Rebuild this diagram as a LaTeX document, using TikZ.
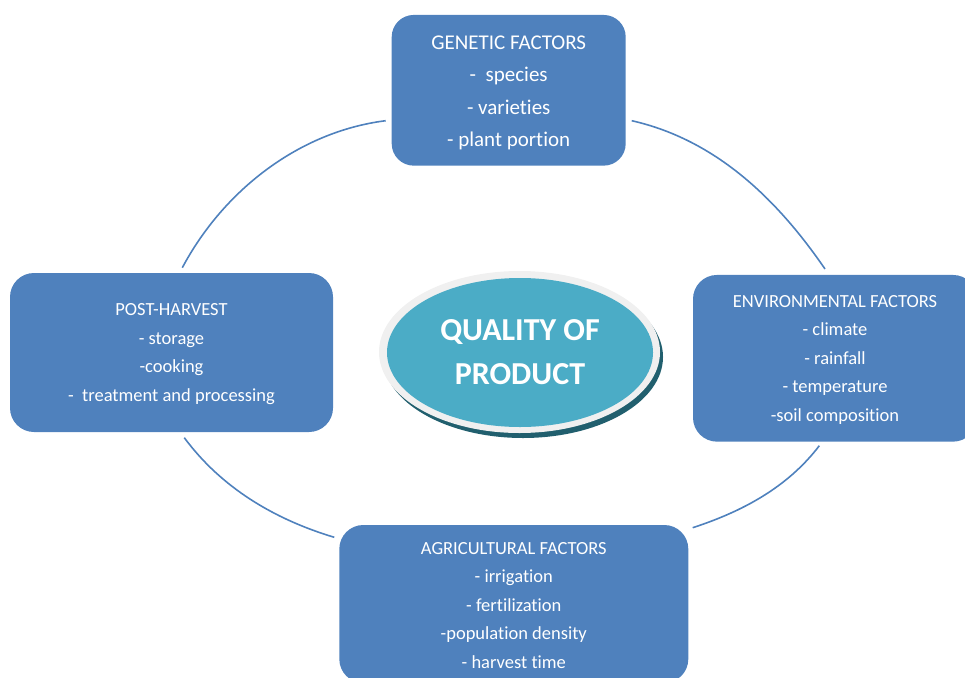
\documentclass[tikz,border=0pt]{standalone}
\usepackage{fontspec}
\setmainfont[Ligatures=NoCommon]{Carlito}
\usetikzlibrary{shapes.geometric}
\definecolor{boxblue}{HTML}{4F81BD}
\definecolor{tealmain}{HTML}{4BACC6}
\definecolor{tealdark}{HTML}{215F6E}
\definecolor{ringgrey}{HTML}{F0F0F0}
\begin{document}
\begin{tikzpicture}[x=1pt,y=-1pt,
  box/.style={rectangle, rounded corners=24pt, fill=boxblue, text=white, align=center, inner sep=0pt},
  boxtext/.style={font=\fontsize{18.5}{28.5}\selectfont},
  arcline/.style={draw=boxblue, line width=1.6pt}]
\useasboundingbox (0,0) rectangle (965,677);
\clip (0,0) rectangle (965,677);
% connector end points
\coordinate (a1) at (385.7,120.7);
\coordinate (a2) at (182.3,267.7);
\coordinate (a3) at (631.7,120.7);
\coordinate (a4) at (825,269);
\coordinate (a5) at (184.3,437.7);
\coordinate (a6) at (334.3,537.3);
\coordinate (a7) at (819.3,445.7);
\coordinate (a8) at (692.7,527.7);
\draw[arcline] (a1) .. controls +(-87,11) and +(41,-77) .. (a2);
\draw[arcline] (a3) .. controls +(84,19) and +(-48,-70) .. (a4);
\draw[arcline] (a5) .. controls +(37,50) and +(-60,-18) .. (a6);
\draw[arcline] (a7) .. controls +(-32,42) and +(49,-16) .. (a8);
% central ellipse
\fill[tealdark] (523,357) ellipse [x radius=140pt, y radius=81pt];
\fill[ringgrey] (519.5,352) ellipse [x radius=140.5pt, y radius=81pt];
\node[ellipse, fill=tealmain, minimum width=266pt, minimum height=149pt, inner sep=0pt,
  text=white, font=\bfseries\fontsize{32}{44}\selectfont, align=center] (q) at (520,352.5) {QUALITY OF\\PRODUCT};
% boxes
\node[box, rounded corners=22pt, minimum width=234pt, minimum height=150.7pt,
  font=\fontsize{21}{32.3}\selectfont] (gen) at (508.7,90.3)
  {\rule{0pt}{19pt}GENETIC FACTORS\\-~ species\\- varieties\\- plant portion};
\node[box, boxtext, minimum width=323pt, minimum height=159pt] (post) at (171.5,352.5)
  {\rule{0pt}{15pt}POST-HARVEST\\- storage\\-cooking\\-~ treatment and processing};
\node[box, boxtext, minimum width=284pt, minimum height=166.7pt] (env) at (835,358.3)
  {\rule{0pt}{15pt}ENVIRONMENTAL FACTORS\\- climate\\- rainfall\\- temperature\\-soil composition};
\node[box, boxtext, minimum width=349pt, minimum height=158pt] (agri) at (513.8,604)
  {\rule{0pt}{15pt}AGRICULTURAL FACTORS\\- irrigation\\- fertilization\\-population density\\- harvest time};
\end{tikzpicture}
\end{document}
